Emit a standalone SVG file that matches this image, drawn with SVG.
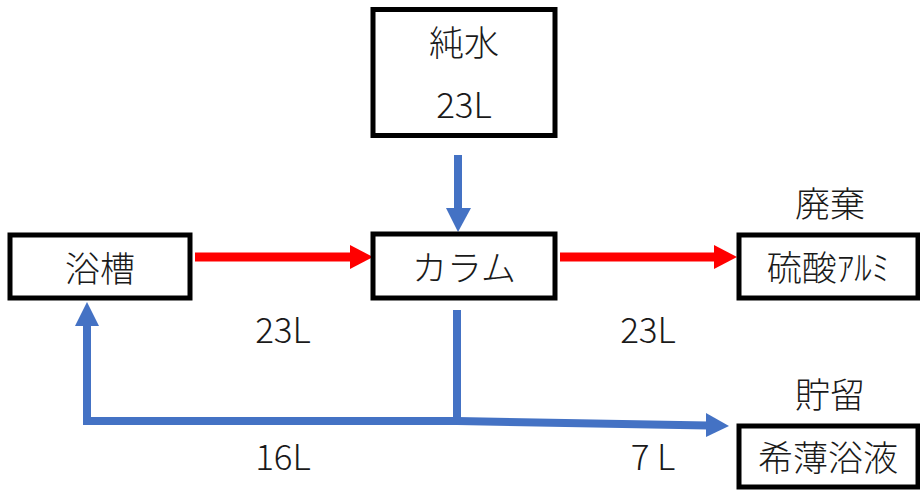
<svg xmlns="http://www.w3.org/2000/svg" width="920" height="490" viewBox="0 0 920 490">
<defs>
<style>
.box{fill:#fff;stroke:#000;stroke-width:5}
text{font-family:"Noto Sans CJK JP","Noto Sans",sans-serif;font-size:35px;font-weight:300;fill:#1a1a1a;text-anchor:middle}
.blue{stroke:#4472C4;stroke-width:8;fill:none}
.red{stroke:#FF0000;stroke-width:9;fill:none}
</style>
</defs>
<rect width="920" height="490" fill="#fff"/>
<g id="connectors">
<line class="blue" x1="458" y1="155" x2="458" y2="210"/>
<polygon points="446,208 471,208 458,232" fill="#4472C4"/>
<line class="red" x1="195" y1="257" x2="352" y2="257"/>
<polygon points="350,245 373,257 350,269" fill="#FF0000"/>
<line class="red" x1="560" y1="257" x2="716" y2="257"/>
<polygon points="714,245 737,257 714,269" fill="#FF0000"/>
<polyline class="blue" points="457,310 457,421 87,421 87,324"/>
<polygon points="75,326 99,326 87,302" fill="#4472C4"/>
<line class="blue" x1="457" y1="421" x2="708" y2="425.5"/>
<polygon points="706,413 729,426 706,437" fill="#4472C4"/>
</g>
<g id="node-junsui">
<rect class="box" x="373" y="9.5" width="182" height="126"/>
<text x="464" y="56">純水</text>
<text x="464" y="118">23L</text>
</g>
<g id="node-yokuso">
<rect class="box" x="10" y="235" width="180" height="63"/>
<text x="100" y="282">浴槽</text>
</g>
<g id="node-column">
<rect class="box" x="373" y="234" width="182" height="64"/>
<text x="464" y="281">カラム</text>
</g>
<g id="node-ryusan">
<text x="830" y="217">廃棄</text>
<rect class="box" x="739" y="235" width="179" height="63"/>
<text x="828" y="281">硫酸ｱﾙﾐ</text>
</g>
<g id="node-kihaku">
<text x="830" y="408">貯留</text>
<rect class="box" x="739" y="426" width="179" height="61"/>
<text x="828" y="471">希薄浴液</text>
</g>
<g id="labels">
<text x="283" y="343">23L</text>
<text x="648" y="343">23L</text>
<text x="283" y="470">16L</text>
<text x="653" y="470">7 L</text>
</g>
</svg>
